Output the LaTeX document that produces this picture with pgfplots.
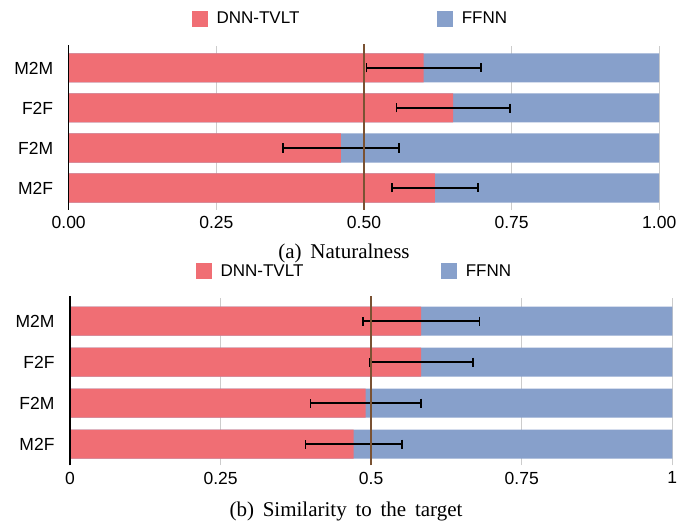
\documentclass[border=0pt]{standalone}
\usepackage{fontspec}
\setmainfont{Liberation Serif}
\setsansfont{Liberation Sans}
\usepackage{pgfplots}
\pgfplotsset{compat=1.18}
\definecolor{dnnred}{HTML}{F06E74}
\definecolor{ffblue}{HTML}{87A0CB}
\definecolor{brownline}{HTML}{7A5233}
\definecolor{gridgray}{HTML}{CCCCCC}
\pgfplotsset{
  mystyle/.style={
    scale only axis, xbar, bar width=29pt, bar shift=0pt,
    xmin=0, xmax=1, clip=false,
    ytick={0,1,2,3}, yticklabels={M2F,F2M,F2F,M2M},
    xtick={0,0.25,0.5,0.75,1},
    xmajorgrids, major grid style={color=gridgray, line width=1pt},
    axis line style={draw=none}, major tick length=0pt, tick style={draw=none},
    tick label style={font=\sffamily\fontsize{17.5}{17.5}\selectfont},
    /pgf/number format/assume math mode=true,
    xticklabel style={yshift=-3pt},
    yticklabel style={xshift=-12pt},
    legend columns=2,
    legend style={draw=none, fill=none, inner sep=0pt, anchor=west,
      font=\sffamily\fontsize{17}{17}\selectfont,
      /tikz/every odd column/.append style={column sep=7pt},
      /tikz/every even column/.append style={column sep=136pt}},
  },
  sqred/.style={legend image code/.code={\fill[dnnred] (0pt,-7.5pt) rectangle (15pt,7.5pt);}},
  sqblue/.style={legend image code/.code={\fill[ffblue] (0pt,-7.5pt) rectangle (15pt,7.5pt);}},
  myerr/.style={error bars/.cd, x dir=both, x explicit,
    error bar style={line width=1.6pt, black},
    error mark options={line width=1.6pt, mark size=4.5pt, black, rotate=90}},
}
\begin{document}
\begin{tikzpicture}
\useasboundingbox (0,0) rectangle (692pt,-521pt);
% (a) Naturalness
\begin{axis}[mystyle, at={(68.7pt,-210pt)}, anchor=south west,
  width=590.5pt, height=164pt, ymin=-0.55, ymax=3.55,
  xticklabels={0.00,0.25,0.50,0.75,1.00},
  legend style={at={(0.2088,1.169)}}]
\addlegendimage{sqred}\addlegendentry{DNN-TVLT}
\addlegendimage{sqblue}\addlegendentry{FFNN}
\addplot[forget plot, fill=ffblue, draw=none] coordinates {(1,0) (1,1) (1,2) (1,3)};
\addplot[forget plot, fill=dnnred, draw=none, myerr] coordinates {
  (0.620,0) +- (0.073,0)
  (0.461,1) +- (0.098,0)
  (0.651,2) +- (0.096,0)
  (0.601,3) +- (0.097,0)
};
\draw[black, line width=1.2pt] (axis cs:0,-0.55) -- (axis cs:0,3.58);
\draw[brownline, line width=1.6pt] (axis cs:0.5,-0.55) -- (axis cs:0.5,3.6);
\end{axis}
\node[anchor=base, font=\fontsize{21}{24}\selectfont] at (344pt,-258.3pt) {(a)\, Naturalness};
% (b) Similarity
\begin{axis}[mystyle, at={(70pt,-465.32pt)}, anchor=south west,
  width=602.3pt, height=166.87pt, ymin=-0.52, ymax=3.55,
  xticklabels={0,0.25,0.5,0.75,1},
  legend style={at={(0.2092,1.164)}}]
\addlegendimage{sqred}\addlegendentry{DNN-TVLT}
\addlegendimage{sqblue}\addlegendentry{FFNN}
\addplot[forget plot, fill=ffblue, draw=none] coordinates {(1,0) (1,1) (1,2) (1,3)};
\addplot[forget plot, fill=dnnred, draw=none, myerr] coordinates {
  (0.471,0) +- (0.080,0)
  (0.491,1) +- (0.092,0)
  (0.583,2) +- (0.086,0)
  (0.583,3) +- (0.097,0)
};
\draw[black, line width=1.2pt] (axis cs:0,-0.52) -- (axis cs:0,3.6);
\draw[brownline, line width=1.6pt] (axis cs:0.5,-0.52) -- (axis cs:0.5,3.62);
\end{axis}
\node[anchor=base, font=\fontsize{21}{24}\selectfont] at (346pt,-516pt) {(b)\, Similarity\, to\, the\, target};
\end{tikzpicture}
\end{document}
